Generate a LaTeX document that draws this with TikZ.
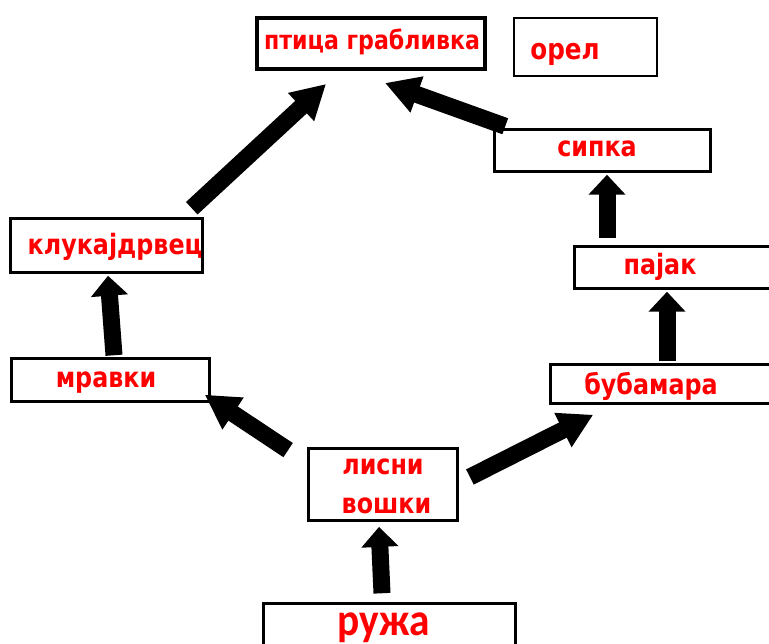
\documentclass[tikz,border=0pt]{standalone}
\usepackage{fontspec}
\setmainfont{DejaVu Sans}
\newfontfamily\cfont[FakeStretch=0.85]{DejaVu Sans}
\newfontfamily\rfont[FakeStretch=0.9]{Carlito}
\usetikzlibrary{arrows.meta}
\tikzset{
  box/.style={draw=black, fill=white, rectangle, inner sep=0pt, line width=3.5pt},
  lab/.style={text=red, font=\cfont\bfseries\fontsize{28}{30}\selectfont, inner sep=0pt, anchor=base},
  arrv/.style={line width=17pt, -{Triangle[length=20pt 0 0, width=36pt 0 0]}},
  arrd/.style={line width=17pt, -{Triangle[length=34pt 0 0, width=36pt 0 0]}},
}
\begin{document}
\begin{tikzpicture}[x=1pt,y=-1pt]
\clip (0,0) rectangle (769,644);
\fill[white] (0,0) rectangle (769,644);
% boxes
\node[box, line width=4pt, minimum width=228pt, minimum height=51pt] (hawk) at (371,43.5) {};
\node[box, line width=2.2pt, minimum width=143pt, minimum height=58pt] (orel) at (585.5,47) {};
\node[box, minimum width=216pt, minimum height=42pt] (sipka) at (602.5,150.5) {};
\node[box, minimum width=224pt, minimum height=42pt] (pajak) at (686.5,267.5) {};
\node[box, minimum width=248pt, minimum height=39pt] (buba) at (674.5,384) {};
\node[box, minimum width=192pt, minimum height=54pt] (kluk) at (106.5,245.5) {};
\node[box, minimum width=198pt, minimum height=43pt] (mrav) at (110.5,380) {};
\node[box, line width=3.8pt, minimum width=149pt, minimum height=72pt] (lisni) at (383,484.5) {};
\node[box, minimum width=252pt, minimum height=75pt] (ruzha) at (389.5,641) {};
% texts (anchor = base, centred horizontally)
\node[lab, font=\cfont\bfseries\fontsize{26}{28}\selectfont] (hawkT) at ([shift={(1,6.5)}]hawk.center) {птица грабливка};
\node[lab, font=\cfont\bfseries\fontsize{29}{31}\selectfont] (orelT) at ([shift={(-20.5,13)}]orel.center) {орел};
\node[lab] (sipkaT) at ([shift={(-5.5,6.5)}]sipka.center) {сипка};
\node[lab] (pajakT) at ([shift={(-26.5,7.5)}]pajak.center) {пајак};
\node[lab] (bubaT) at ([shift={(-23.5,11)}]buba.center) {бубамара};
\node[lab] (klukT) at ([shift={(8.5,9.5)}]kluk.center) {клукајдрвец};
\node[lab] (mravT) at ([shift={(-4.5,8)}]mrav.center) {мравки};
\node[lab] (lisniT) at ([shift={(0,-9.5)}]lisni.center) {лисни};
\node[lab] (voshkiT) at ([shift={(3.5,28.5)}]lisni.center) {вошки};
\node[lab, font=\rfont\bfseries\fontsize{46}{48}\selectfont] (ruzhaT) at ([shift={(-6,-6)}]ruzha.center) {ружа};
% connectors
\draw[arrv] ([shift={(-7.5,-8.5)}]ruzha.north) -- ([shift={(-4,4.5)}]lisni.south);
\draw[arrd] ([shift={(-18.5,3.5)}]lisni.north west) -- ([shift={(-6.5,-8.5)}]mrav.south east);
\draw[arrd] ([shift={(10.5,-7.5)}]lisni.east) -- ([shift={(44.5,9.5)}]buba.south west);
\draw[arrv] ([shift={(3.5,-1.5)}]mrav.north) -- ([shift={(1.5,1.5)}]kluk.south);
\draw[arrd] ([shift={(-12.5,-8.5)}]kluk.north east) -- ([shift={(71,13)}]hawk.south west);
\draw[arrv] ([shift={(-7.5,-1.5)}]buba.north) -- ([shift={(-19.5,1.5)}]pajak.south);
\draw[arrv] ([shift={(-79.5,-6.5)}]pajak.north) -- ([shift={(4.5,1.5)}]sipka.south);
\draw[arrd] ([shift={(12.5,-1.5)}]sipka.north west) -- ([shift={(-102,12)}]hawk.south east);
\end{tikzpicture}
\end{document}
